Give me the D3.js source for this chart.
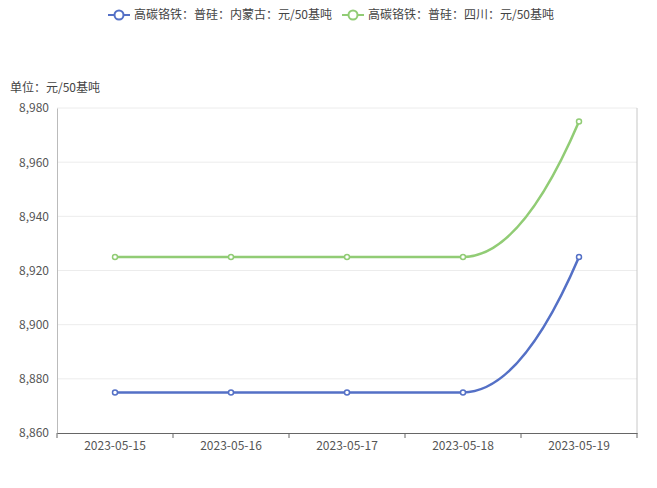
<!DOCTYPE html>
<html>
<head>
<meta charset="utf-8">
<script src="https://cdn.jsdelivr.net/npm/d3@7"></script>
<style>
  body { margin: 0; background: #fff; }
  text { font-family: "Noto Sans CJK SC", "Noto Sans", sans-serif; }
</style>
</head>
<body>
<div id="chart"></div>
<script>
// data
const dates = ['2023-05-15', '2023-05-16', '2023-05-17', '2023-05-18', '2023-05-19'];
const neimenggu = [8875, 8875, 8875, 8875, 8925];
const sichuan = [8925, 8925, 8925, 8925, 8975];
const yTicks = [8860, 8880, 8900, 8920, 8940, 8960, 8980];
const seriesNames = ['高碳铬铁：普硅：内蒙古：元/50基吨', '高碳铬铁：普硅：四川：元/50基吨'];
const unitLabel = '单位：元/50基吨';

const width = 657, height = 488;
const margin = { left: 57, right: 20, top: 108, bottom: 55 };
const colors = ['#5470c6', '#91cc75'];

// smooth curve: flat tangent where the line turns or levels off,
// ends take the "natural" tangent (2 * secant - neighbour tangent)
function curveSmooth(context) {
  let pts;
  return {
    areaStart() {}, areaEnd() {},
    lineStart() { pts = []; },
    point(px, py) { pts.push([+px, +py]); },
    lineEnd() {
      const n = pts.length;
      if (!n) return;
      context.moveTo(pts[0][0], pts[0][1]);
      if (n === 1) return;
      const s = [];
      for (let i = 0; i < n - 1; i++) {
        s.push((pts[i + 1][1] - pts[i][1]) / (pts[i + 1][0] - pts[i][0]));
      }
      const t = new Array(n).fill(0);
      for (let i = 1; i < n - 1; i++) {
        t[i] = (s[i - 1] * s[i] <= 0) ? 0 : (s[i - 1] + s[i]) / 2;
      }
      if (n > 2) {
        t[0] = 2 * s[0] - t[1];
        t[n - 1] = 2 * s[n - 2] - t[n - 2];
      } else {
        t[0] = t[1] = s[0];
      }
      for (let i = 0; i < n - 1; i++) {
        const [x0, y0] = pts[i], [x1, y1] = pts[i + 1];
        const h = (x1 - x0) / 3;
        context.bezierCurveTo(x0 + h, y0 + t[i] * h, x1 - h, y1 - t[i + 1] * h, x1, y1);
      }
    },
  };
}

const svg = d3.select('#chart').append('svg')
  .attr('width', width)
  .attr('height', height);

const x = d3.scaleBand()
  .domain(dates)
  .range([margin.left, width - margin.right]);
const y = d3.scaleLinear()
  .domain([8860, 8980])
  .range([height - margin.bottom, margin.top]);

// grid
svg.append('g')
  .selectAll('line')
  .data(yTicks.slice(1))
  .join('line')
  .attr('x1', margin.left)
  .attr('x2', width - margin.right)
  .attr('y1', (d) => y(d))
  .attr('y2', (d) => y(d))
  .attr('stroke', '#ececec');

// right border
svg.append('line')
  .attr('x1', width - margin.right)
  .attr('x2', width - margin.right)
  .attr('y1', y(8980))
  .attr('y2', y(8860))
  .attr('stroke', '#c8c8c8');

// y axis
const yAxis = svg.append('g')
  .attr('transform', `translate(${margin.left},0)`)
  .call(d3.axisLeft(y).tickValues(yTicks).tickSize(0).tickPadding(8).tickFormat(d3.format(',')));
yAxis.select('.domain').attr('stroke', '#bbb');
yAxis.selectAll('text').attr('fill', '#555').attr('font-size', 12);

// x axis
const xAxis = svg.append('g')
  .attr('transform', `translate(0,${height - margin.bottom})`)
  .call(d3.axisBottom(x).tickSize(0).tickPadding(8));
xAxis.select('.domain').attr('stroke', '#666');
xAxis.selectAll('text').attr('fill', '#555').attr('font-size', 12);
// band boundary ticks
xAxis.append('g')
  .selectAll('line')
  .data(dates.map((d) => x(d)).concat([x.range()[1]]))
  .join('line')
  .attr('x1', (d) => d)
  .attr('x2', (d) => d)
  .attr('y1', 0)
  .attr('y2', 5)
  .attr('stroke', '#666');

// unit label
svg.append('text')
  .attr('x', 10)
  .attr('y', 92)
  .attr('font-size', 12)
  .attr('fill', '#444')
  .text(unitLabel);

const cx = (d, i) => x(dates[i]) + x.bandwidth() / 2;
const line = d3.line()
  .x(cx)
  .y((d) => y(d))
  .curve(curveSmooth);

[neimenggu, sichuan].forEach((vals, k) => {
  svg.append('path')
    .datum(vals)
    .attr('d', line)
    .attr('fill', 'none')
    .attr('stroke', colors[k])
    .attr('stroke-width', 2.5);
  svg.append('g')
    .selectAll('circle')
    .data(vals)
    .join('circle')
    .attr('cx', cx)
    .attr('cy', (d) => y(d))
    .attr('r', 2.5)
    .attr('fill', '#fff')
    .attr('stroke', colors[k])
    .attr('stroke-width', 1.5);
});

// legend
const legendX = [108, 342];
seriesNames.forEach((name, k) => {
  const g = svg.append('g').attr('transform', `translate(${legendX[k]},15)`);
  g.append('line')
    .attr('x1', 0).attr('x2', 22)
    .attr('stroke', colors[k]).attr('stroke-width', 2);
  g.append('circle')
    .attr('cx', 11).attr('r', 4.5)
    .attr('fill', '#fff').attr('stroke', colors[k]).attr('stroke-width', 2);
  g.append('text')
    .attr('x', 26).attr('dy', '0.35em')
    .attr('font-size', 12).attr('fill', '#444')
    .text(name);
});
</script>
</body>
</html>
